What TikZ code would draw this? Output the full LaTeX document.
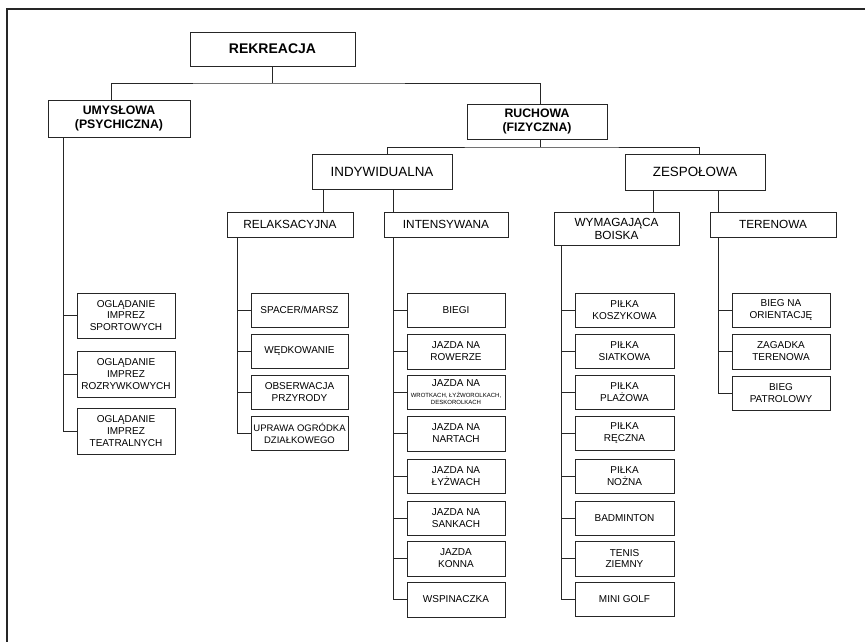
\documentclass[tikz,border=0pt]{standalone}
\usepackage{fontspec}
\setmainfont{Liberation Sans}
\newcommand\mybox[7]{\node[#6, minimum width={(#4-#2)*1pt}, minimum height={(#5-#3)*1pt}] (#1) at ({(#2+#4)/2},{(#3+#5)/2}) {#7};}
\begin{document}
\begin{tikzpicture}[x=1pt,y=-1pt,
 box/.style={draw=black!85, line width=0.9pt, fill=white, inner sep=0pt, align=center},
 b1/.style={box, font=\bfseries\fontsize{14}{16}\selectfont},
 b2/.style={box, font=\bfseries\fontsize{12.3}{14.6}\selectfont},
 b3/.style={box, font=\fontsize{13.4}{15}\selectfont},
 b4/.style={box, font=\fontsize{11.8}{13}\selectfont},
 lf/.style={box, font=\fontsize{10}{11.9}\selectfont},
 ln/.style={draw=black!85, line width=0.8pt}]
\useasboundingbox (0,0) rectangle (865,642);
\draw[line width=1.4pt, black!85] (7,642) -- (7,9) -- (865,9);
% main levels
\mybox{rek}{190}{32}{355}{66}{b1}{REKREACJA}
\mybox{umy}{48}{100}{190}{137}{b2}{UMYSŁOWA\\(PSYCHICZNA)}
\mybox{ruc}{467}{104}{607}{139}{b2}{RUCHOWA\\(FIZYCZNA)}
\mybox{ind}{312}{154}{452}{189}{b3}{INDYWIDUALNA}
\mybox{zes}{625}{154}{765}{190}{b3}{ZESPOŁOWA}
\mybox{rel}{227}{212}{353}{237}{b4}{RELAKSACYJNA}
\mybox{int}{384}{212}{508}{237}{b4}{INTENSYWANA}
\mybox{wym}{554}{212}{679}{245}{b4}{WYMAGAJĄCA\\BOISKA}
\mybox{ter}{710}{212}{836}{237}{b4}{TERENOWA}
% umysłowa leaves
\mybox{u1}{77}{293}{175}{338}{lf}{OGLĄDANIE\\IMPREZ\\SPORTOWYCH}
\mybox{u2}{77}{351}{175}{397}{lf}{OGLĄDANIE\\IMPREZ\\ROZRYWKOWYCH}
\mybox{u3}{77}{408}{175}{454}{lf}{OGLĄDANIE\\IMPREZ\\TEATRALNYCH}
% relaksacyjna leaves
\mybox{r1}{251}{293}{348}{327}{lf}{SPACER/MARSZ}
\mybox{r2}{251}{334}{348}{368}{lf}{WĘDKOWANIE}
\mybox{r3}{251}{375}{348}{409}{lf}{OBSERWACJA\\PRZYRODY}
\mybox{r4}{251}{416}{348}{450}{lf, font=\fontsize{9.5}{11.9}\selectfont}{UPRAWA OGRÓDKA\\DZIAŁKOWEGO}
% intensywana leaves
\mybox{i1}{407}{293}{505}{327}{lf}{BIEGI}
\mybox{i2}{407}{334}{505}{369}{lf}{JAZDA NA\\ROWERZE}
\mybox{i3}{407}{375}{505}{409}{lf}{JAZDA NA\\[-1.5pt]{\fontsize{6}{6}\selectfont WROTKACH, ŁYŻWOROLKACH,}\\[-5pt]{\fontsize{6}{6}\selectfont DESKOROLKACH}}
\mybox{i4}{407}{416}{505}{451}{lf}{JAZDA NA\\NARTACH}
\mybox{i5}{407}{459}{505}{493}{lf}{JAZDA NA\\ŁYŻWACH}
\mybox{i6}{407}{501}{505}{535}{lf}{JAZDA NA\\SANKACH}
\mybox{i7}{407}{541}{505}{576}{lf}{JAZDA\\KONNA}
\mybox{i8}{407}{582}{505}{617}{lf}{WSPINACZKA}
% wymagająca boiska leaves
\mybox{w1}{575}{293}{674}{327}{lf}{PIŁKA\\KOSZYKOWA}
\mybox{w2}{575}{334}{674}{368}{lf}{PIŁKA\\SIATKOWA}
\mybox{w3}{575}{375}{674}{409}{lf}{PIŁKA\\PLAŻOWA}
\mybox{w4}{575}{416}{674}{450}{lf}{PIŁKA\\RĘCZNA}
\mybox{w5}{575}{459}{674}{493}{lf}{PIŁKA\\NOŻNA}
\mybox{w6}{575}{501}{674}{535}{lf}{BADMINTON}
\mybox{w7}{575}{541}{674}{576}{lf}{TENIS\\ZIEMNY}
\mybox{w8}{575}{582}{674}{616}{lf}{MINI GOLF}
% terenowa leaves
\mybox{t1}{732}{293}{830}{327}{lf}{BIEG NA\\ORIENTACJĘ}
\mybox{t2}{732}{334}{830}{369}{lf}{ZAGADKA\\TERENOWA}
\mybox{t3}{732}{376}{830}{410}{lf}{BIEG\\PATROLOWY}
% helper coordinates
\coordinate (j1) at (272.5,83);
\coordinate (j2) at (540,147);
\coordinate (c323) at (323,0);
\coordinate (c393) at (393,0);
\coordinate (c653) at (653,0);
\coordinate (c718) at (718,0);
\coordinate (tu) at (63,0);
\coordinate (tr) at (237,0);
\coordinate (tw) at (561,0);
% connectors
\draw[ln] (rek) -- (j1);
\draw[ln] ([xshift=-8pt]umy.north) |- (j1) -| ([xshift=3pt]ruc.north);
\draw[ln] ([xshift=3pt]ruc.south) -- (j2);
\draw[ln] ([xshift=5pt]ind.north) |- (j2) -| ([xshift=4pt]zes.north);
\draw[ln] (ind.south -| c323) -- (rel.north -| c323);
\draw[ln] (ind.south -| c393) -- (int.north -| c393);
\draw[ln] (zes.south -| c653) -- (wym.north -| c653);
\draw[ln] (zes.south -| c718) -- (ter.north -| c718);
% trunks
\draw[ln] (umy.south -| tu) |- (u3.west);
\foreach \n in {u1,u2} \draw[ln] (\n.west) -- (\n.west -| tu);
\draw[ln] (rel.south -| tr) |- (r4.west);
\foreach \n in {r1,r2,r3} \draw[ln] (\n.west) -- (\n.west -| tr);
\draw[ln] (int.south -| c393) |- (i8.west);
\foreach \n in {i1,i2,i3,i4,i5,i6,i7} \draw[ln] (\n.west) -- (\n.west -| c393);
\draw[ln] (wym.south -| tw) |- (w8.west);
\foreach \n in {w1,w2,w3,w4,w5,w6,w7} \draw[ln] (\n.west) -- (\n.west -| tw);
\draw[ln] (ter.south -| c718) |- (t3.west);
\foreach \n in {t1,t2} \draw[ln] (\n.west) -- (\n.west -| c718);
\end{tikzpicture}
\end{document}
